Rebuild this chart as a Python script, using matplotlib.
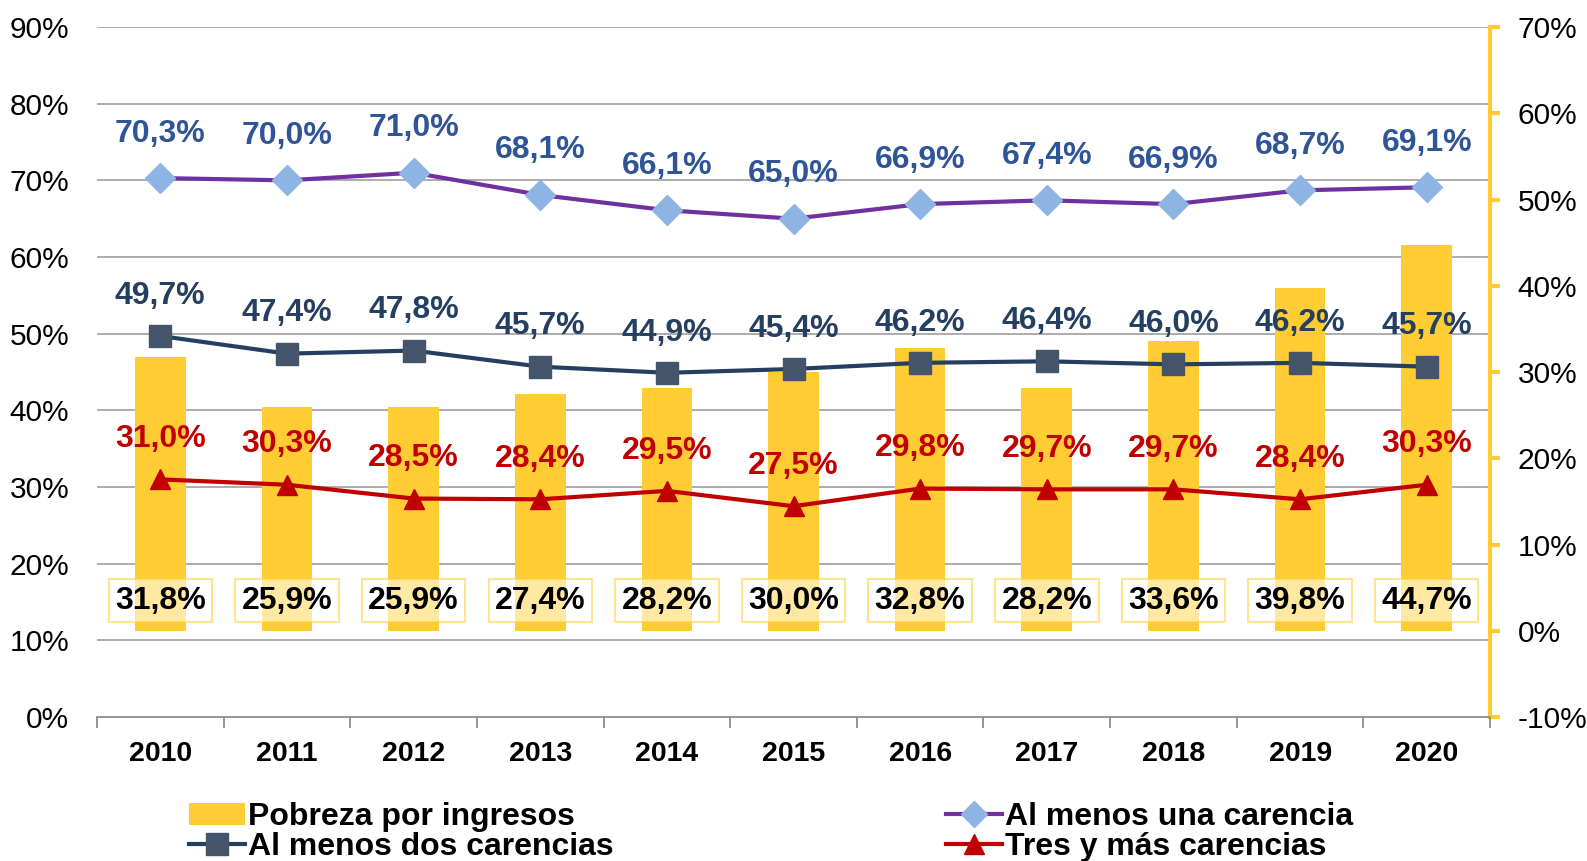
import numpy as np
import matplotlib.pyplot as plt
from matplotlib.lines import Line2D
from matplotlib.patches import Patch

plt.rcParams['font.family'] = ['Liberation Sans', 'DejaVu Sans']

years = ['2010', '2011', '2012', '2013', '2014', '2015', '2016', '2017', '2018', '2019', '2020']
pobreza_ingresos = [31.8, 25.9, 25.9, 27.4, 28.2, 30.0, 32.8, 28.2, 33.6, 39.8, 44.7]
una_carencia = [70.3, 70.0, 71.0, 68.1, 66.1, 65.0, 66.9, 67.4, 66.9, 68.7, 69.1]
dos_carencias = [49.7, 47.4, 47.8, 45.7, 44.9, 45.4, 46.2, 46.4, 46.0, 46.2, 45.7]
tres_carencias = [31.0, 30.3, 28.5, 28.4, 29.5, 27.5, 29.8, 29.7, 29.7, 28.4, 30.3]

yellow = '#FFCD33'
purple = '#7030A0'
lightblue = '#8EB4E3'
navy = '#243F60'
navy_mk = '#44546A'
red = '#C00000'
lblue = '#2F5597'

def pct(v):
    return f"{v:.1f}%".replace('.', ',')

fig = plt.figure(figsize=(15.87, 8.61), dpi=100)
ax = fig.add_axes([0.0611, 0.1672, 0.8778, 0.8014])
ax2 = ax.twinx()
ax.set_zorder(2)
ax2.set_zorder(1)
ax.patch.set_visible(False)

x = np.arange(len(years))

# bars on the right axis
ax2.set_ylim(-10, 70)
ax2.set_yticks(np.arange(-10, 71, 10))
ax2.set_yticklabels([f"{t}%" for t in range(-10, 71, 10)], fontsize=21.5)
ax2.bar(x, pobreza_ingresos, width=0.4, color=yellow, zorder=2)
for xi, v in zip(x, pobreza_ingresos):
    ax2.text(xi, 3.5, pct(v), ha='center', va='center', fontsize=23, fontweight='bold',
             color='black', zorder=3,
             bbox=dict(boxstyle='square,pad=0.2', facecolor='white', alpha=0.55,
                       edgecolor=yellow, linewidth=1.5))

# gridlines on left scale, drawn behind bars
for g in range(10, 91, 10):
    ax2.plot([0, 1], [g, g], transform=ax.get_yaxis_transform(), color='#A6A6A6',
             linewidth=1.3, zorder=0.5)

# lines on the left axis
ax.set_ylim(0, 90)
ax.set_xlim(-0.5, len(years) - 0.5)
ax.set_yticks(np.arange(0, 91, 10))
ax.set_yticklabels([f"{t}%" for t in range(0, 91, 10)], fontsize=21.5)

ax.plot(x, una_carencia, color=purple, linewidth=3, marker='D', markersize=15,
        markerfacecolor=lightblue, markeredgecolor=lightblue, zorder=3)
ax.plot(x, dos_carencias, color=navy, linewidth=3, marker='s', markersize=16,
        markerfacecolor=navy_mk, markeredgecolor=navy_mk, zorder=3)
ax.plot(x, tres_carencias, color=red, linewidth=3, marker='^', markersize=15,
        markerfacecolor=red, markeredgecolor=red, zorder=3)

for xi, v in zip(x, una_carencia):
    ax.annotate(pct(v), (xi, v), xytext=(0, 32), textcoords='offset points', ha='center',
                va='center', fontsize=23, fontweight='bold', color=lblue)
for xi, v in zip(x, dos_carencias):
    ax.annotate(pct(v), (xi, v), xytext=(0, 29), textcoords='offset points', ha='center',
                va='center', fontsize=23, fontweight='bold', color=navy)
for xi, v in zip(x, tres_carencias):
    ax.annotate(pct(v), (xi, v), xytext=(0, 29), textcoords='offset points', ha='center',
                va='center', fontsize=23, fontweight='bold', color=red)

# x axis
ax.set_xticks(x)
ax.set_xticklabels(years, fontsize=20.5, fontweight='bold')
ax.set_xticks(np.arange(-0.5, len(years), 1), minor=True)
ax.tick_params(axis='x', which='major', length=0, pad=17)
ax.tick_params(axis='x', which='minor', length=8, color='#8C8C8C', width=1.3)
ax.tick_params(axis='y', length=0, pad=20)

for s in ['top', 'right', 'left']:
    ax.spines[s].set_visible(False)
ax.spines['bottom'].set_color('#8C8C8C')
ax.spines['bottom'].set_linewidth(1.3)
for s in ['top', 'left', 'bottom']:
    ax2.spines[s].set_visible(False)
ax2.spines['right'].set_color(yellow)
ax2.spines['right'].set_linewidth(3)
ax2.tick_params(axis='y', direction='out', length=7, width=3, color=yellow, pad=13)

handles = [Patch(facecolor=yellow, edgecolor='none'),
           Line2D([], [], color=navy, linewidth=3, marker='s', markersize=16,
                  markerfacecolor=navy_mk, markeredgecolor=navy_mk),
           Line2D([], [], color=purple, linewidth=3, marker='D', markersize=13,
                  markerfacecolor=lightblue, markeredgecolor=lightblue),
           Line2D([], [], color=red, linewidth=3, marker='^', markersize=15,
                  markerfacecolor=red, markeredgecolor=red)]
labels = ['Pobreza por ingresos', 'Al menos dos carencias',
          'Al menos una carencia', 'Tres y más carencias']
fig.legend(handles, labels, loc='lower left', bbox_to_anchor=(0.109, -0.02), ncol=2,
           frameon=False, prop={'size': 23, 'weight': 'bold'}, handlelength=1.75,
           handletextpad=0.1, columnspacing=10.4, labelspacing=0.0, borderpad=0.0)

fig.savefig('out.png', dpi=100)
